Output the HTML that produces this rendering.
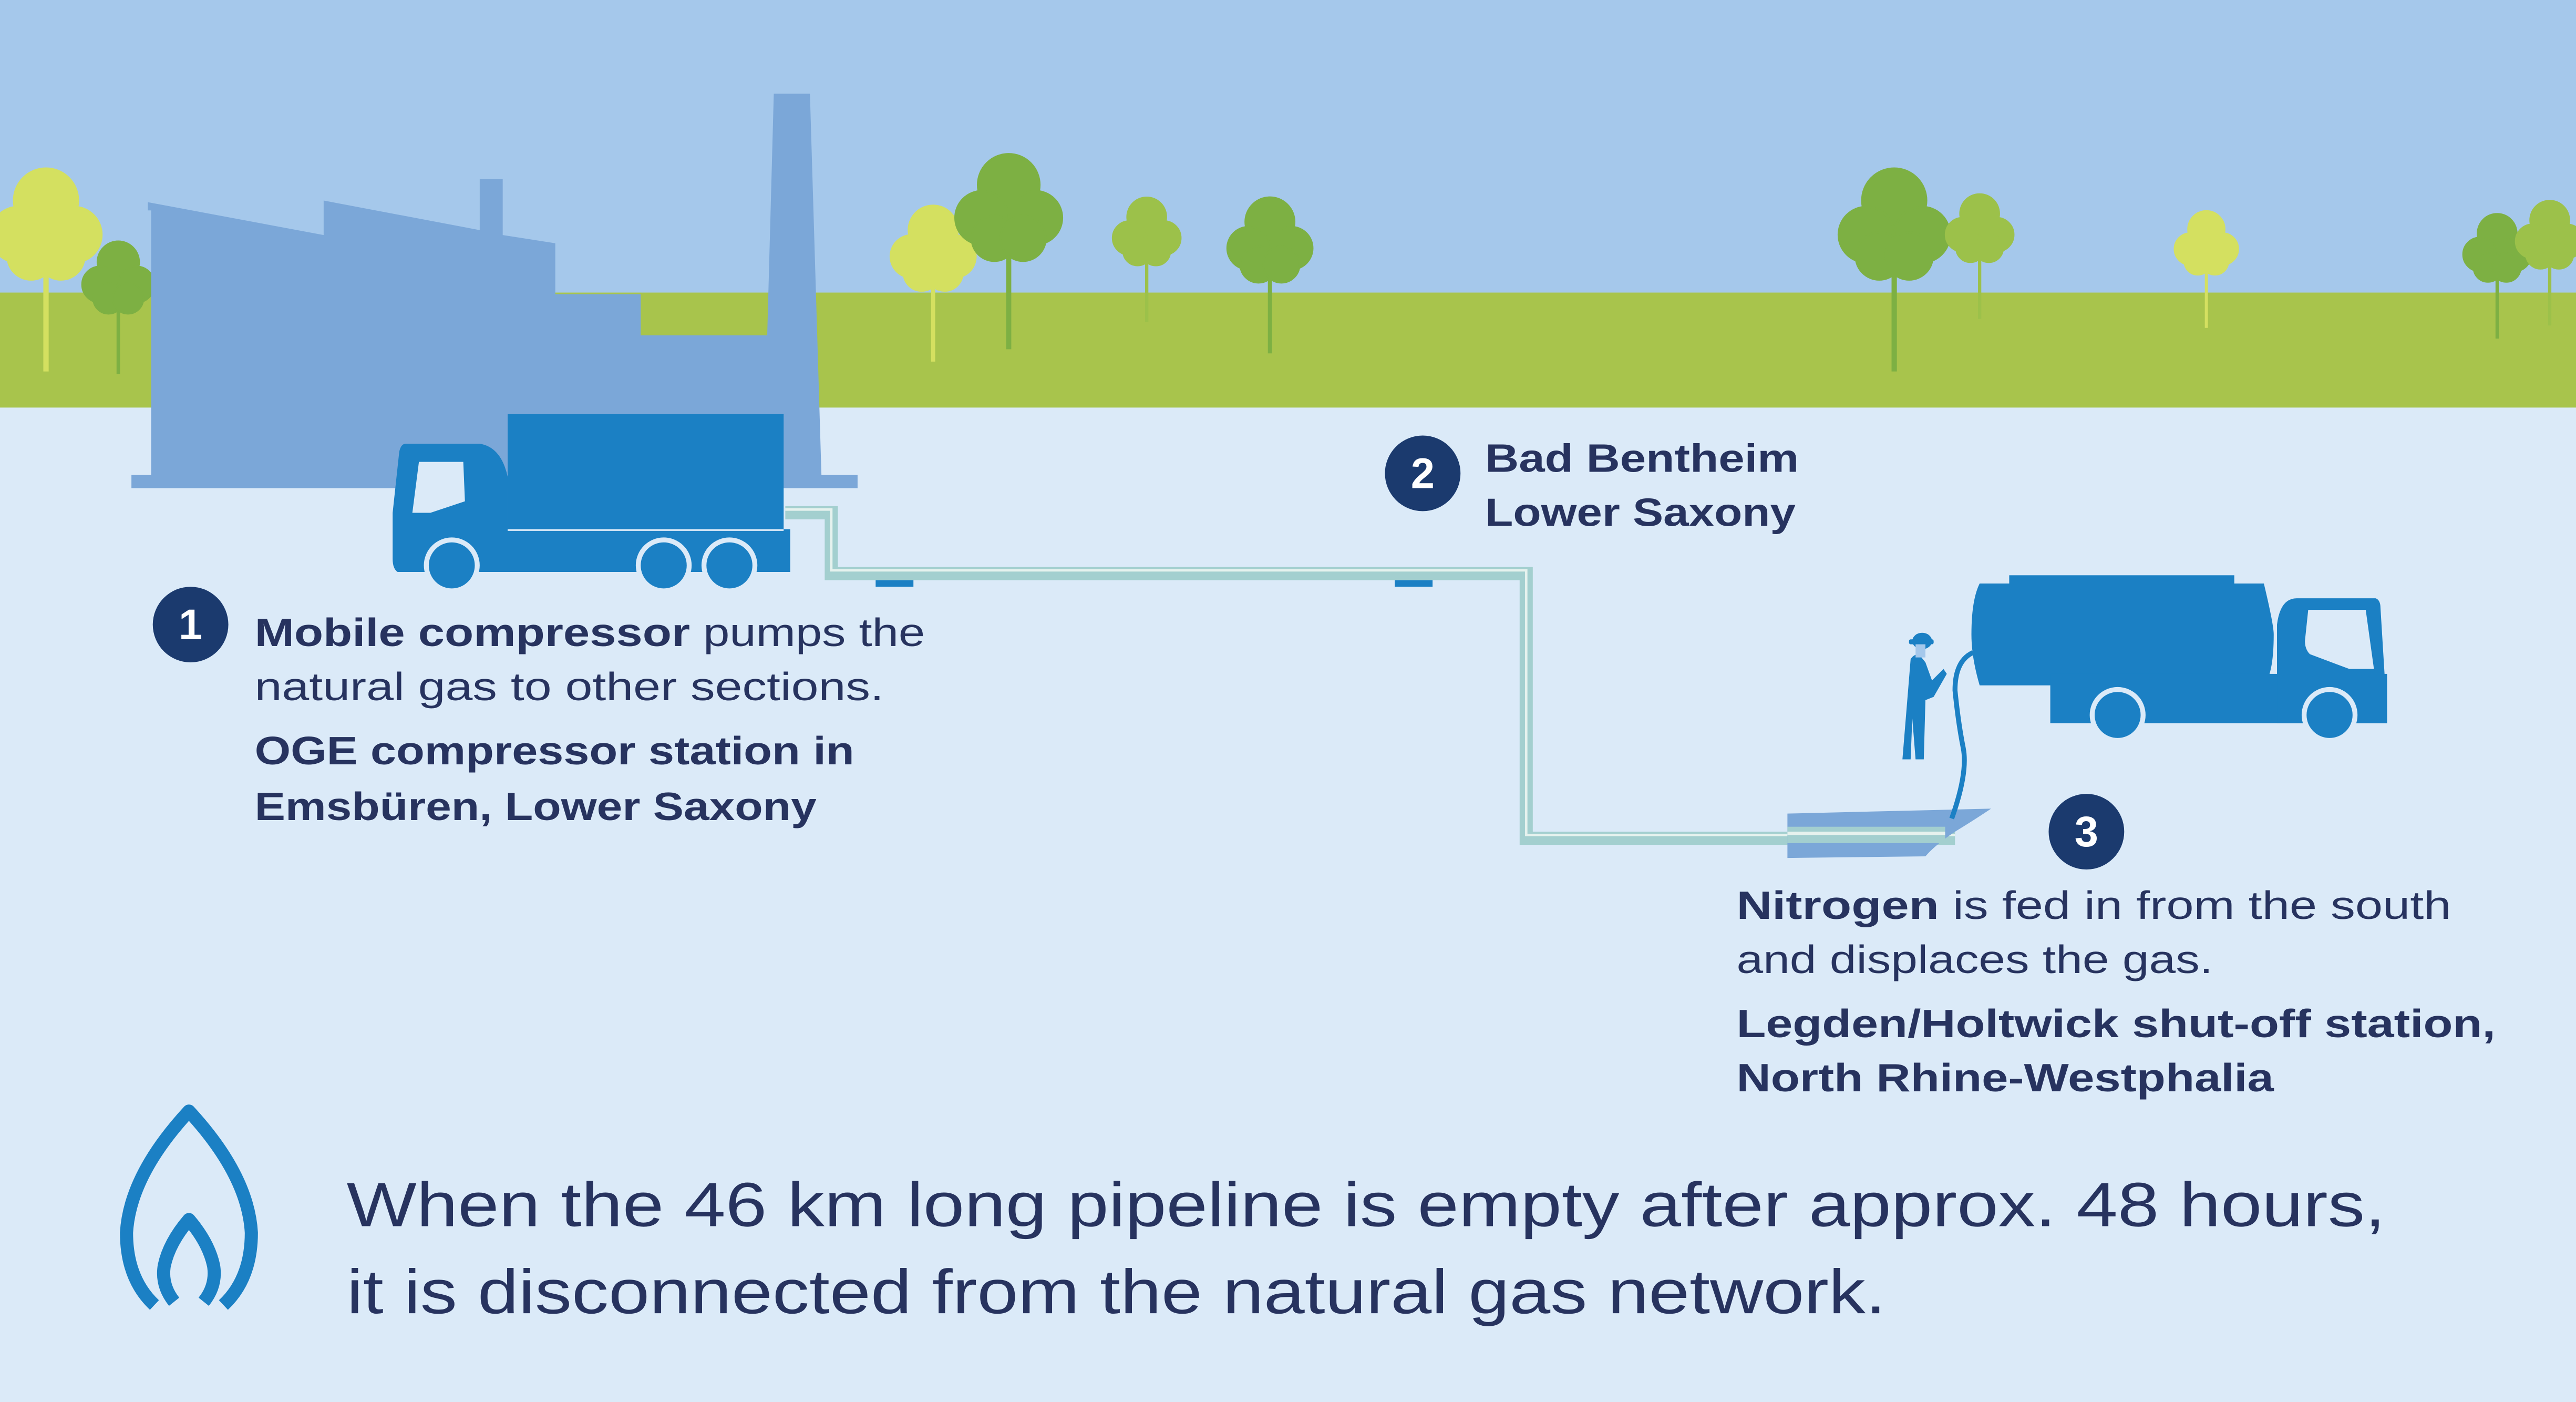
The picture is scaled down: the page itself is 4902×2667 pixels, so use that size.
<!DOCTYPE html>
<html><head><meta charset="utf-8"><style>
html,body{margin:0;padding:0;background:#dbeaf8;}
svg{display:block;}
text{font-family:"Liberation Sans",sans-serif;fill:#27335f;}
</style></head><body>
<svg width="4902" height="2667" viewBox="0 0 1568 853" preserveAspectRatio="none" xmlns="http://www.w3.org/2000/svg">
<defs>
<g id="tree"><line x1="0" y1="0" x2="0" y2="70" stroke-width="2.5"/><circle cx="0" cy="-10" r="15"/><circle cx="-13" cy="6" r="13"/><circle cx="13" cy="6" r="13"/><circle cx="-7" cy="16" r="11"/><circle cx="7" cy="16" r="11"/></g>
</defs>
<rect x="0" y="0" width="1568" height="178" fill="#a5c8eb"/>
<rect x="0" y="178" width="1568" height="70" fill="#a8c44c"/>
<rect x="0" y="248" width="1568" height="605" fill="#dbeaf8"/>
<!-- trees -->
<g fill="#d4e060" stroke="#d4e060"><use href="#tree" transform="translate(28,135) scale(1.3)"/></g>
<g fill="#7db043" stroke="#7db043"><use href="#tree" transform="translate(72,168) scale(0.85)"/></g>
<g fill="#d4e060" stroke="#d4e060"><use href="#tree" transform="translate(568,150) scale(1.0)"/></g>
<g fill="#7db043" stroke="#7db043"><use href="#tree" transform="translate(614,125) scale(1.25)"/></g>
<g fill="#9cc14a" stroke="#9cc14a"><use href="#tree" transform="translate(698,140) scale(0.8)"/></g>
<g fill="#7db043" stroke="#7db043"><use href="#tree" transform="translate(773,145) scale(1.0)"/></g>
<g fill="#7db043" stroke="#7db043"><use href="#tree" transform="translate(1153,135) scale(1.3)"/></g>
<g fill="#9cc14a" stroke="#9cc14a"><use href="#tree" transform="translate(1205,138) scale(0.8)"/></g>
<g fill="#d4e060" stroke="#d4e060"><use href="#tree" transform="translate(1343,147) scale(0.75)"/></g>
<g fill="#7db043" stroke="#7db043"><use href="#tree" transform="translate(1520,150) scale(0.8)"/></g>
<g fill="#9cc14a" stroke="#9cc14a"><use href="#tree" transform="translate(1552,142) scale(0.8)"/></g>
<!-- factory -->
<g fill="#7ba7d8">
<polygon points="90,123 197,143 197,122 292,140 292,109 306,109 306,143 338,148 338,179 390,179 390,204 467,204 471,57 493,57 500,289 522,289 522,297 80,297 80,289 92,289 92,128 90,128"/>
</g>
<!-- pipeline -->
<g fill="none" stroke-linejoin="miter">
<polyline points="478,312 506,312 506,349 929,349 929,510 1190,510" stroke="#a3cfcf" stroke-width="8"/>
<polyline points="478,310 506,310 506,347 929,347 929,508 1190,508" stroke="#e6f2ee" stroke-width="1.5"/>
</g>
<rect x="533" y="353" width="23" height="4" fill="#1b80c4"/>
<rect x="849" y="353" width="23" height="4" fill="#1b80c4"/>
<!-- nitrogen platform -->
<path d="M1088,495 L1212,492 Q1200,500 1190,506 Q1178,514 1172,521 L1088,522 Z" fill="#7ba7d8"/>
<rect x="1088" y="503" width="96" height="10" fill="#a3cfcf"/>
<rect x="1088" y="506" width="96" height="2" fill="#e6f2ee"/>
<!-- truck 1 -->
<g fill="#1b80c4">
<rect x="309" y="252" width="168" height="70"/>
<path d="M244,270 L292,270 Q305,272 309,290 L309,322 L481,322 L481,348 L242,348 Q239,346 239,340 L239,312 L243,275 Q244,270 247,270 Z"/>
<circle cx="275" cy="344" r="17" fill="#dbeaf8"/><circle cx="275" cy="344" r="14"/>
<circle cx="404" cy="344" r="17" fill="#dbeaf8"/><circle cx="404" cy="344" r="14"/>
<circle cx="444" cy="344" r="17" fill="#dbeaf8"/><circle cx="444" cy="344" r="14"/>
</g>
<rect x="309" y="322" width="168" height="1" fill="#dbeaf8"/>
<path d="M255,281 L282,281 L283,305 L262,312 L251,312 Z" fill="#dbeaf8"/>
<!-- tanker truck -->
<g fill="#1b80c4">
<rect x="1223" y="350" width="137" height="8"/>
<path d="M1205,355 L1378,355 Q1384,380 1384,386 Q1384,410 1378,417 L1205,417 Q1200,400 1200,386 Q1200,365 1205,355 Z"/>
<rect x="1248" y="410" width="205" height="30"/>
<path d="M1386,417 L1386,380 Q1388,364 1398,364 L1446,364 Q1449,365 1449,370 L1453,435 L1453,440 L1386,440 Z"/>
<circle cx="1289" cy="435" r="17" fill="#dbeaf8"/><circle cx="1289" cy="435" r="14"/>
<circle cx="1418" cy="435" r="17" fill="#dbeaf8"/><circle cx="1418" cy="435" r="14"/>
</g>
<path d="M1405,371 L1440,371 L1445,407 L1430,407 L1406,398 Q1403,395 1403,390 Z" fill="#dbeaf8"/>
<!-- hose -->
<path d="M1201,397 Q1190,402 1190,420 Q1192,440 1195,455 Q1198,470 1188,498" fill="none" stroke="#1b80c4" stroke-width="3"/>
<!-- person -->
<g fill="#1b80c4">
<ellipse cx="1170" cy="390" rx="6" ry="5"/><rect x="1162" y="389" width="15" height="3" rx="1"/>
<path d="M1163,401 Q1165,398 1168,398 L1172,403 L1176,414 L1183,407 L1185,410 L1177,424 L1172,426 L1171,462 L1166,462 L1164,437 L1163,462 L1158,462 Z"/>
</g>
<rect x="1166" y="392" width="6" height="8" fill="#a5c8eb"/>
<!-- circles -->
<g fill="#1b3a6e"><circle cx="116" cy="380" r="23"/><circle cx="866" cy="288" r="23"/><circle cx="1270" cy="506" r="23"/></g>
<g style="font-weight:bold;font-size:26px" text-anchor="middle"><text x="116" y="389" style="fill:#fff">1</text><text x="866" y="297" style="fill:#fff">2</text><text x="1270" y="515" style="fill:#fff">3</text></g>
<!-- labels -->
<g font-size="24">
<text x="155" y="393" textLength="408" lengthAdjust="spacingAndGlyphs"><tspan font-weight="bold">Mobile compressor</tspan> pumps the</text>
<text x="155" y="426" textLength="383" lengthAdjust="spacingAndGlyphs">natural gas to other sections.</text>
<text x="155" y="465" font-weight="bold" textLength="365" lengthAdjust="spacingAndGlyphs">OGE compressor station in</text>
<text x="155" y="499" font-weight="bold" textLength="342" lengthAdjust="spacingAndGlyphs">Emsbüren, Lower Saxony</text>
<text x="904" y="287" font-weight="bold" textLength="191" lengthAdjust="spacingAndGlyphs">Bad Bentheim</text>
<text x="904" y="320" font-weight="bold" textLength="189" lengthAdjust="spacingAndGlyphs">Lower Saxony</text>
<text x="1057" y="559" textLength="435" lengthAdjust="spacingAndGlyphs"><tspan font-weight="bold">Nitrogen</tspan> is fed in from the south</text>
<text x="1057" y="592" textLength="290" lengthAdjust="spacingAndGlyphs">and displaces the gas.</text>
<text x="1057" y="631" font-weight="bold" textLength="462" lengthAdjust="spacingAndGlyphs">Legden/Holtwick shut-off station,</text>
<text x="1057" y="664" font-weight="bold" textLength="327" lengthAdjust="spacingAndGlyphs">North Rhine-Westphalia</text>
</g>
<g font-size="38">
<text x="211" y="746" textLength="1241" lengthAdjust="spacingAndGlyphs">When the 46 km long pipeline is empty after approx. 48 hours,</text>
<text x="211" y="799" textLength="937" lengthAdjust="spacingAndGlyphs">it is disconnected from the natural gas network.</text>
</g>
<!-- flame -->
<g fill="none" stroke="#1b80c4" stroke-width="8" stroke-linejoin="round">
<path d="M94,794 Q77,778 77,750 Q79,715 115,676 Q151,715 153,750 Q153,778 136,794"/>
<path d="M106,792 Q98,782 100,770 Q103,756 115,742 Q127,756 130,770 Q132,782 124,792"/>
</g>
</svg>
</body></html>
